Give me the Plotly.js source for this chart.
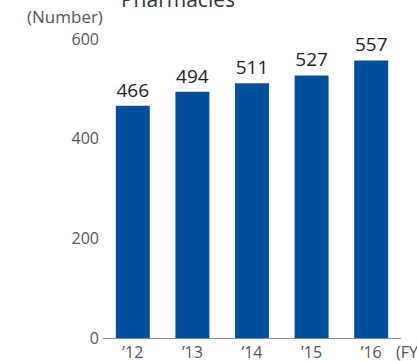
<!DOCTYPE html>
<html>
<head>
<meta charset="utf-8">
<script src="https://cdn.plot.ly/plotly-3.0.1.min.js"></script>
<style>html,body{margin:0;padding:0;background:#fff;}#chart{width:417px;height:361px;}</style>
</head>
<body>
<div id="chart"></div>
<script>
var years = ["’12", "’13", "’14", "’15", "’16"];
var pharmacies = [466, 494, 511, 527, 557];
var yTicks = [0, 200, 400, 600];

var FONT = 'Open Sans, sans-serif';

var trace = {
  type: 'bar',
  x: years,
  y: pharmacies,
  text: pharmacies.map(String),
  textposition: 'outside',
  cliponaxis: false,
  textfont: {family: FONT, size: 19, color: '#222'},
  marker: {color: '#00509e'},
  hoverinfo: 'none'
};

var layout = {
  width: 417, height: 361,
  margin: {l: 103, r: 16, t: 39, b: 23, pad: 0},
  paper_bgcolor: '#fff', plot_bgcolor: '#fff',
  font: {family: FONT, color: '#555'},
  bargap: 0.43,
  showlegend: false,
  title: {
    text: 'Pharmacies',
    font: {family: FONT, size: 21, color: '#333'},
    x: 178 / 417, xanchor: 'center', xref: 'container',
    y: 1, yanchor: 'middle', yref: 'container'
  },
  xaxis: {
    type: 'category',
    range: [-0.5, 4.5],
    showline: true, linecolor: '#888', linewidth: 1,
    ticks: '', showgrid: false, zeroline: false,
    ticklabelstandoff: 0,
    tickfont: {family: FONT, size: 16, color: '#555'},
    fixedrange: true
  },
  yaxis: {
    range: [0, 600],
    tickvals: yTicks,
    ticktext: yTicks.map(String),
    showgrid: false, zeroline: false, showline: false, ticks: '',
    ticklabelstandoff: 3,
    tickfont: {family: FONT, size: 16, color: '#555'},
    fixedrange: true
  },
  annotations: [
    {text: '(Number)', xref: 'paper', yref: 'paper', x: 0, y: 1,
     xanchor: 'right', yanchor: 'middle', xshift: 2, yshift: 23, showarrow: false,
     font: {family: FONT, size: 17, color: '#555'}},
    {text: '(FY)', xref: 'paper', yref: 'paper', x: 1, y: 0,
     xanchor: 'left', yanchor: 'middle', xshift: -7, yshift: -14, showarrow: false,
     font: {family: FONT, size: 16, color: '#555'}}
  ]
};

Plotly.newPlot('chart', [trace], layout, {displayModeBar: false, staticPlot: true});
</script>
</body>
</html>
